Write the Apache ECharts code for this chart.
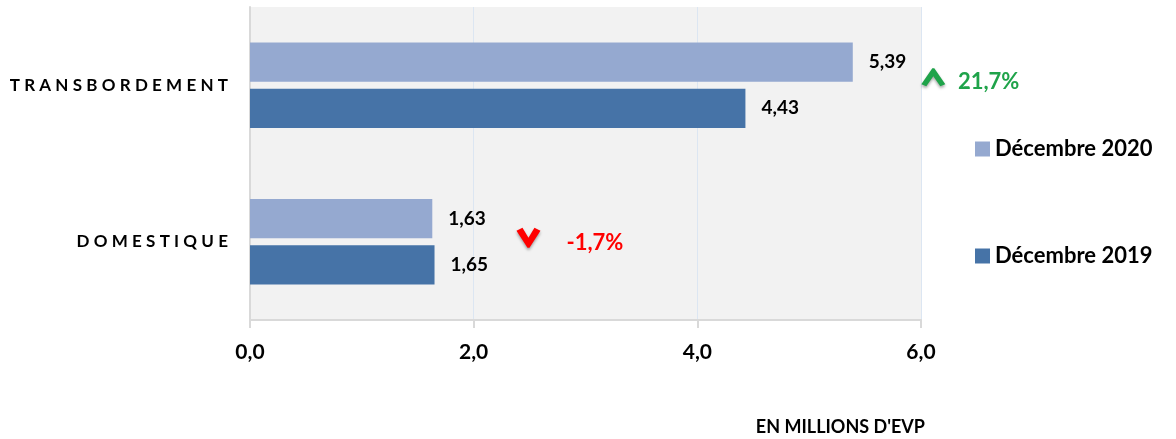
<!DOCTYPE html>
<html>
<head>
<meta charset="utf-8">
<script src="https://cdn.jsdelivr.net/npm/echarts@6/dist/echarts.min.js"></script>
<style>
  html, body { margin: 0; padding: 0; background: #fff; }
  #chart { width: 1176px; height: 439px; }
</style>
</head>
<body>
<div id="chart"></div>
<script>
const categories = ['TRANSBORDEMENT', 'DOMESTIQUE']
const dec2020 = [5.39, 1.63]
const dec2019 = [4.43, 1.65]
const changes = [21.7, -1.7]
const xTicks = [0, 2, 4, 6]

const FONT = 'Lato'
const fmt = v => v.toFixed(2).replace('.', ',')
const pct = v => v.toFixed(1).replace('.', ',') + '%'
const spaced = s => s.split('').join('\u2009\u2009')

const chart = echarts.init(document.getElementById('chart'))

const valueLabel = {
  show: true,
  position: 'right',
  distance: 16,
  color: '#000',
  fontFamily: FONT,
  fontWeight: 'bold',
  fontSize: 19,
  formatter: p => fmt(p.value)
}

chart.setOption({
  backgroundColor: '#fff',
  animation: false,
  textStyle: { fontFamily: FONT },
  grid: {
    left: 250,
    right: 255,
    top: 7,
    bottom: 119,
    show: true,
    backgroundColor: '#f2f2f2',
    borderWidth: 0
  },
  legend: {
    orient: 'vertical',
    left: 970,
    top: 133,
    itemWidth: 15,
    itemHeight: 15,
    itemGap: 85,
    icon: 'rect',
    data: ['Décembre 2020', 'Décembre 2019'],
    textStyle: { color: '#000', fontFamily: FONT, fontWeight: 'bold', fontSize: 22 }
  },
  title: {
    text: "EN MILLIONS D'EVP",
    right: 246,
    top: 413,
    textStyle: { color: '#000', fontFamily: FONT, fontWeight: 'bold', fontSize: 18 }
  },
  xAxis: {
    type: 'value',
    min: xTicks[0],
    max: xTicks[xTicks.length - 1],
    interval: 2,
    axisLine: { show: true, lineStyle: { color: '#d9d9d9', width: 2 } },
    axisTick: { show: true, length: 8, lineStyle: { color: '#d9d9d9', width: 2 } },
    splitLine: { show: true, lineStyle: { color: '#dce6f2', width: 1 } },
    axisLabel: {
      margin: 22,
      color: '#000',
      fontFamily: FONT,
      fontWeight: 'bold',
      fontSize: 21,
      formatter: v => v.toFixed(1).replace('.', ',')
    }
  },
  yAxis: {
    type: 'category',
    inverse: true,
    data: categories,
    axisLine: { show: true, lineStyle: { color: '#d9d9d9', width: 2 } },
    axisTick: { show: false },
    axisLabel: {
      margin: 22,
      color: '#000',
      fontFamily: FONT,
      fontWeight: 'bold',
      fontSize: 17,
      formatter: v => spaced(v)
    }
  },
  series: [
    {
      name: 'Décembre 2020',
      type: 'bar',
      data: dec2020,
      barWidth: '25%',
      barGap: '18%',
      itemStyle: { color: '#95a9d0' },
      label: valueLabel
    },
    {
      name: 'Décembre 2019',
      type: 'bar',
      data: dec2019,
      barWidth: '25%',
      barGap: '18%',
      itemStyle: { color: '#4673a7' },
      label: valueLabel
    }
  ]
})

// change annotations, placed through the chart's own axes
const notes = [
  { arrowAt: 6.11, textAt: 6.33, dyArrow: -8, dyText: -3, color: '#1fa34a', up: true },
  { arrowAt: 2.49, textAt: 2.83, dyArrow: -4, dyText: 1, color: '#ff0000', up: false }
]
const shadow = { shadowColor: 'rgba(0,0,0,0.35)', shadowBlur: 3, shadowOffsetY: 2 }
const graphics = []
notes.forEach((n, i) => {
  const cy = chart.convertToPixel({ yAxisIndex: 0 }, categories[i])
  const ax = chart.convertToPixel({ xAxisIndex: 0 }, n.arrowAt)
  const tx = chart.convertToPixel({ xAxisIndex: 0 }, n.textAt)
  const ay = cy + n.dyArrow
  const pts = n.up
    ? [[-12, 7], [-1, -9], [1, -9], [12, 7], [7, 9], [0, -1], [-7, 9]]
    : [[-12, -7], [-6, -10], [0, 0], [6, -10], [12, -7], [1, 10], [-1, 10]]
  graphics.push({
    type: 'polygon',
    shape: { points: pts.map(p => [ax + p[0], ay + p[1]]) },
    style: Object.assign({ fill: n.color }, shadow),
    silent: true
  })
  graphics.push({
    type: 'text',
    x: tx,
    y: cy + n.dyText,
    style: {
      text: pct(changes[i]),
      fill: n.color,
      font: 'bold 22px ' + FONT,
      textAlign: 'left',
      textVerticalAlign: 'middle'
    },
    silent: true
  })
})
chart.setOption({ graphic: graphics })

window.addEventListener('resize', () => chart.resize())
</script>
</body>
</html>
